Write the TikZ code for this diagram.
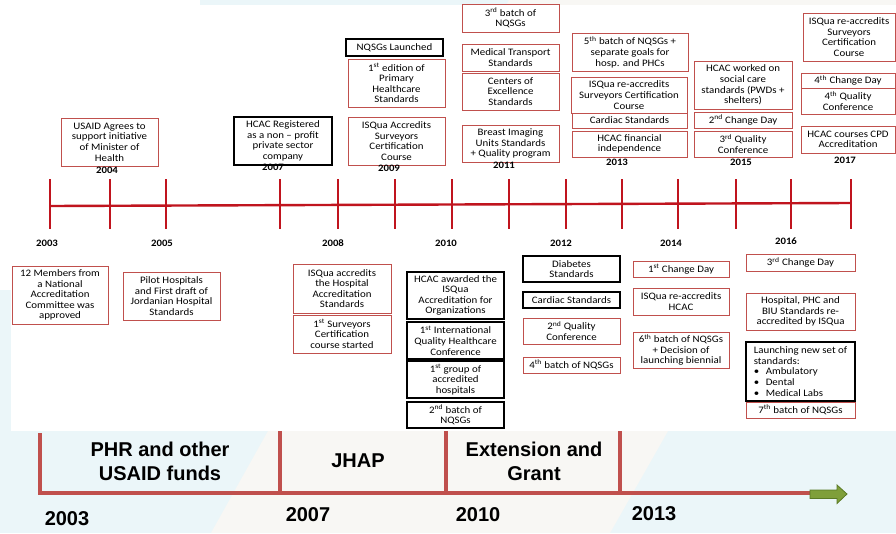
\documentclass[tikz,border=0pt]{standalone}
\usepackage{fontspec}
\setmainfont{Carlito}[FakeStretch=1.1]
\newfontfamily\arl{Liberation Sans}
\definecolor{boxred}{HTML}{C0504D}
\definecolor{tlred}{HTML}{C0141E}
\definecolor{bgblue}{HTML}{EBF6F9}
\definecolor{bgbeige}{HTML}{F8F7F4}
\definecolor{barred}{HTML}{C0504D}
\definecolor{arrgreen}{HTML}{7F9F3A}
\definecolor{arrdark}{HTML}{5A7A25}
\newcommand\tlbox[7]{\node[#2, minimum width={(#5-#3)*1pt}, minimum height={(#6-#4)*1pt}] (#1) at ({(#3+#5)/2},{(#4+#6)/2}) {#7};}
\newcommand\sst[1]{\textsuperscript{#1}}
\tikzset{
  rb/.style={draw=boxred, line width=0.8pt, fill=white, align=center, inner sep=0pt,
    font=\fontsize{9.9}{10.6}\selectfont},
  kb/.style={rb, draw=black, line width=1.4pt},
  yr/.style={font=\fontsize{9.8}{11}\selectfont\bfseries, inner sep=0pt},
  tick/.style={draw=tlred, line width=1.5pt},
  tline/.style={draw=tlred, line width=2.4pt},
  bbar/.style={draw=barred, line width=4pt},
  blab/.style={font=\arl\fontsize{20}{24}\selectfont\bfseries, align=center, inner sep=0pt},
}
\begin{document}
\begin{tikzpicture}[x=1pt,y=-1pt]
\useasboundingbox (0,0) rectangle (896,533);
% background
\begin{scope}
\clip (0,0) rectangle (896,533);
\fill[bgblue] (0,0) rectangle (896,533);
\fill[bgbeige] (509,0) -- (913,0) -- (610,533) -- (211,533) -- cycle;
\fill[white] (11,5) rectangle (896,431);
\fill[white] (0,0) rectangle (200,5);
\fill[white] (0,0) rectangle (11,290);
\end{scope}

% main timeline
\coordinate (tlS) at (50,206);
\coordinate (tlE) at (851,203);
\draw[tline] (tlS) -- (tlE);
\foreach \x in {50,110,166,280,338,395,452,509,566,622,678,736,791,851}
  \draw[tick] (\x,179) -- (\x,229);

% upper boxes
\tlbox{usaid}{rb}{61}{118}{158}{166}{USAID Agrees to\\support initiative\\of Minister of\\Health}
\tlbox{hcacreg}{kb}{234}{117}{332}{165}{HCAC Registered\\as a non -- profit\\private sector\\company}
\tlbox{nqsgl}{kb}{346}{39}{443}{56}{NQSGs Launched}
\tlbox{ed1}{rb}{348}{59}{445}{107}{1\sst{st} edition of\\Primary\\Healthcare\\Standards}
\tlbox{isqacc}{rb}{348}{117}{445}{165}{ISQua Accredits\\Surveyors\\Certification\\Course}
\tlbox{b3}{rb}{462}{4}{559}{32}{3\sst{rd} batch of\\NQSGs}
\tlbox{medtr}{rb}{462}{44}{559}{71}{Medical Transport\\Standards}
\tlbox{coe}{rb}{462}{73}{559}{110}{Centers of\\Excellence\\Standards}
\tlbox{breast}{rb}{462}{125}{559}{162}{Breast Imaging\\Units Standards\\+ Quality program}
\tlbox{b5}{rb}{572}{33}{688}{71}{5\sst{th} batch of NQSGs +\\separate goals for\\hosp. and PHCs}
\tlbox{isqreA}{rb}{571}{77}{687}{113}{ISQua re-accredits\\Surveyors Certification\\Course}
\tlbox{cardA}{rb}{572}{113}{687}{128}{Cardiac Standards}
\tlbox{fin}{rb}{572}{131}{687}{157}{HCAC financial\\independence}
\tlbox{social}{rb}{694}{61}{792}{109}{HCAC worked on\\social care\\standards (PWDs +\\shelters)}
\tlbox{cdB}{rb}{694}{112}{792}{128}{2\sst{nd} Change Day}
\tlbox{qcC}{rb}{694}{131}{792}{157}{3\sst{rd} Quality\\Conference}
\tlbox{isqreB}{rb}{803}{13}{895}{61}{ISQua re-accredits\\Surveyors\\Certification\\Course}
\tlbox{cdD}{rb}{801}{73}{895}{88}{4\sst{th} Change Day}
\tlbox{qcD}{rb}{801}{88}{895}{114}{4\sst{th} Quality\\Conference}
\tlbox{cpd}{rb}{801}{126}{895}{153}{HCAC courses CPD\\Accreditation}

% lower boxes
\tlbox{m12}{rb}{12}{266}{108}{324}{12 Members from\\a National\\Accreditation\\Committee was\\approved}
\tlbox{pilot}{rb}{123}{272}{220}{320}{Pilot Hospitals\\and First draft of\\Jordanian Hospital\\Standards}
\tlbox{isqhosp}{rb}{293}{264}{391}{313}{ISQua accredits\\the Hospital\\Accreditation\\Standards}
\tlbox{survA}{rb}{293}{315}{391}{353}{1\sst{st} Surveyors\\Certification\\course started}
\tlbox{awarded}{kb}{407}{272}{504}{319}{HCAC awarded the\\ISQua\\Accreditation for\\Organizations}
\tlbox{intl}{kb}{407}{322}{504}{359}{1\sst{st} International\\Quality Healthcare\\Conference}
\tlbox{grpA}{kb}{407}{361}{504}{398}{1\sst{st} group of\\accredited\\hospitals}
\tlbox{b2}{kb}{407}{402}{504}{428}{2\sst{nd} batch of\\NQSGs}
\tlbox{diab}{kb}{523}{256}{620}{282}{Diabetes\\Standards}
\tlbox{cardB}{kb}{523}{292}{620}{308}{Cardiac Standards}
\tlbox{qcB}{rb}{523}{318}{620}{344}{2\sst{nd} Quality\\Conference}
\tlbox{b4}{rb}{523}{357}{620}{373}{4\sst{th} batch of NQSGs}
\tlbox{cdA}{rb}{633}{261}{729}{277}{1\sst{st} Change Day}
\tlbox{isqhcac}{rb}{633}{288}{729}{315}{ISQua re-accredits\\HCAC}
\tlbox{b6}{rb}{633}{332}{729}{368}{6\sst{th} batch of NQSGs\\+ Decision of\\launching biennial}
\tlbox{cdC}{rb}{746}{254}{855}{271}{3\sst{rd} Change Day}
\tlbox{hphc}{rb}{746}{293}{855}{330}{Hospital, PHC and\\BIU Standards re-\\accredited by ISQua}
\tlbox{launch}{kb,align=left,line width=1.6pt}{746}{342}{855}{401}{Launching new set of\\standards:\\\makebox[12pt][l]{•}Ambulatory\\\makebox[12pt][l]{•}Dental\\\makebox[12pt][l]{•}Medical Labs}
\tlbox{b7}{rb}{746}{402}{855}{418}{7\sst{th} batch of NQSGs}

% year labels
\node[yr] (y04) at (107,170) {2004};
\node[yr] (y07) at (273,167) {2007};
\node[yr] (y09) at (389,168) {2009};
\node[yr] (y11) at (504,165) {2011};
\node[yr] (y13) at (617,162) {2013};
\node[yr] (y15) at (741,162) {2015};
\node[yr] (y17) at (845,160) {2017};
\node[yr] (y03) at (47,243) {2003};
\node[yr] (y05) at (162,243) {2005};
\node[yr] (y08) at (333,243) {2008};
\node[yr] (y10) at (446,243) {2010};
\node[yr] (y12) at (561,243) {2012};
\node[yr] (y14) at (671,243) {2014};
\node[yr] (y16) at (786,241) {2016};

% bottom funding timeline
\coordinate (p03) at (40,433);
\coordinate (p07) at (280,431);
\coordinate (p10) at (446,431);
\coordinate (p13) at (620,431);
\coordinate (q03) at (40,493);
\coordinate (q07) at (280,493);
\coordinate (q10) at (446,493);
\coordinate (q13) at (620,493);
\coordinate (qend) at (812,493);
\draw[bbar] (p03) -- (q03);
\draw[bbar] (p07) -- (q07);
\draw[bbar] (p10) -- (q10);
\draw[bbar] (p13) -- (q13);
\draw[bbar, line cap=butt] (38,493) -- (qend);
\draw[arrdark, fill=arrgreen, line width=0.8pt]
  (810,490) -- (837,490) -- (837,485) -- (847,494) -- (837,503.5) -- (837,498.5) -- (810,498.5) -- cycle;

\node[blab] (f1) at (160,461) {PHR and other\\USAID funds};
\node[blab] (f2) at (358,461) {JHAP};
\node[blab] (f3) at (534,461) {Extension and\\Grant};
\node[blab] (z03) at (67,519) {2003};
\node[blab] (z07) at (308,515) {2007};
\node[blab] (z10) at (478,515) {2010};
\node[blab] (z13) at (654,514) {2013};
\end{tikzpicture}
\end{document}
